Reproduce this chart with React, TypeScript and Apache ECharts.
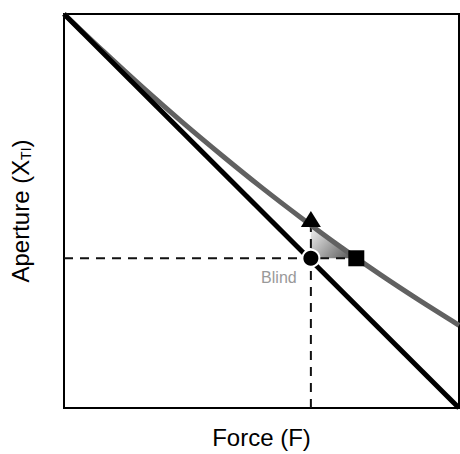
import React, { useEffect, useRef } from "react";
import * as echarts from "echarts";

const blackX = [0, 1];
const blackY = [1, 0];
const curveX = [0, 0.1, 0.2, 0.3, 0.4, 0.5, 0.6, 0.7, 0.8, 0.9, 1.0];
const curveY = [1, 0.905, 0.813, 0.725, 0.641, 0.56, 0.483, 0.409, 0.339, 0.273, 0.21];
const blindPoint = [0.625, 0.38];
const trianglePoint = [0.625, 0.48];
const squarePoint = [0.74, 0.38];
const hDashX = [0, 0.74];
const hDashY = [0.38, 0.38];
const vDashX = [0.625, 0.625];
const vDashY = [0, 0.464];
const shadeX = [0.625, 0.625, 0.68, 0.74];
const shadeY = [0.38, 0.464, 0.424, 0.38];

export default function App() {
  const ref = useRef<HTMLDivElement>(null);
  useEffect(() => {
    if (!ref.current) return;
    const chart = echarts.init(ref.current, null, { renderer: "svg" });
    const zip = (xs: number[], ys: number[]) => xs.map((x, i) => [x, ys[i]]);
    const font = "'Liberation Sans', Arial, sans-serif";
    chart.setOption({
      animation: false,
      grid: {
        left: 62,
        top: 14,
        right: 1,
        bottom: 44,
        show: true,
        borderColor: "#000",
        borderWidth: 2,
      },
      xAxis: {
        type: "value",
        min: 0,
        max: 1,
        axisLine: { show: false },
        axisTick: { show: false },
        axisLabel: { show: false },
        splitLine: { show: false },
        name: "Force (F)",
        nameLocation: "middle",
        nameGap: 17,
        nameTextStyle: { fontFamily: font, fontSize: 24, color: "#000", verticalAlign: "top" },
      },
      yAxis: {
        type: "value",
        min: 0,
        max: 1,
        axisLine: { show: false },
        axisTick: { show: false },
        axisLabel: { show: false },
        splitLine: { show: false },
        name: "Aperture (X{sub|TI})",
        nameLocation: "middle",
        nameGap: 31,
        nameTextStyle: {
          fontFamily: font,
          fontSize: 24,
          color: "#000",
          rich: {
            sub: { fontFamily: font, fontSize: 14, color: "#000", verticalAlign: "bottom", padding: [12, 0, 0, 0] },
          },
        },
      },
      series: [
        {
          type: "custom",
          data: [[0]],
          z: 1,
          silent: true,
          renderItem: (_params: any, api: any) => {
            const pts = shadeX.map((x, i) => api.coord([x, shadeY[i]]));
            return {
              type: "polygon",
              shape: { points: pts },
              style: {
                fill: new echarts.graphic.LinearGradient(0, 0, 1, 0.6, [
                  { offset: 0, color: "#f6f6f6" },
                  { offset: 1, color: "#666666" },
                ]),
              },
            };
          },
        },
        {
          type: "line",
          data: zip(hDashX, hDashY),
          symbol: "none",
          z: 2,
          lineStyle: { color: "#111", width: 2, type: [9, 7] },
        },
        {
          type: "line",
          data: zip(vDashX, vDashY),
          symbol: "none",
          z: 2,
          lineStyle: { color: "#111", width: 2, type: [9, 7] },
        },
        {
          type: "line",
          data: zip(curveX, curveY),
          symbol: "none",
          smooth: 0.3,
          z: 3,
          lineStyle: { color: "#616161", width: 5 },
        },
        {
          type: "line",
          data: zip(blackX, blackY),
          symbol: "none",
          z: 4,
          lineStyle: { color: "#000", width: 5 },
        },
        {
          type: "scatter",
          data: [trianglePoint],
          symbol: "triangle",
          symbolSize: [20, 16],
          z: 5,
          itemStyle: { color: "#000", opacity: 1 },
        },
        {
          type: "scatter",
          data: [squarePoint],
          symbol: "rect",
          symbolSize: 16,
          z: 5,
          itemStyle: { color: "#000", opacity: 1 },
        },
        {
          type: "scatter",
          data: [blindPoint],
          symbol: "circle",
          symbolSize: 17,
          z: 6,
          itemStyle: { color: "#000", borderColor: "#fff", borderWidth: 2, opacity: 1 },
          label: {
            show: true,
            formatter: "Blind",
            position: "bottom",
            distance: 2,
            offset: [-32, 0],
            fontFamily: font,
            fontSize: 16,
            color: "#999",
          },
        },
      ],
    });
    return () => chart.dispose();
  }, []);
  return (
    <div
      ref={ref}
      style={{ position: "absolute", left: 0, top: 0, width: 460, height: 454, background: "#fff" }}
    />
  );
}
